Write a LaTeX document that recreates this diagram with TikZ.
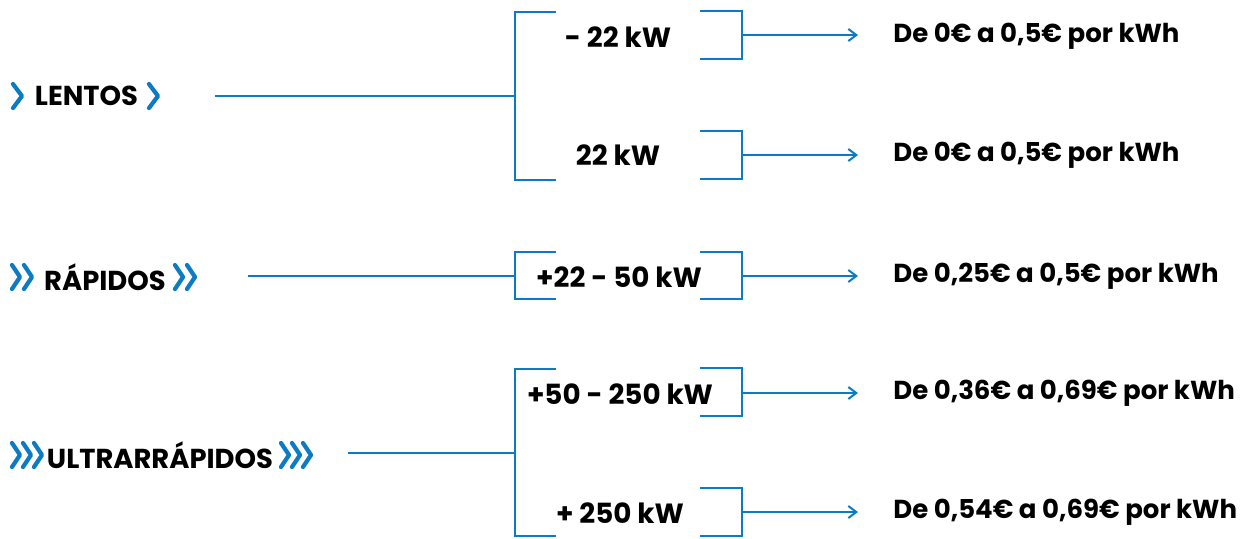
\documentclass[tikz,border=0pt]{standalone}
\usepackage{fontspec}
\setmainfont{Poppins}
\usetikzlibrary{arrows.meta}
\definecolor{plugblue}{HTML}{0C7BC4}
\tikzset{
  lbl/.style={font=\bfseries\fontsize{13.7}{15}\selectfont,inner sep=0pt},
  rng/.style={font=\bfseries\fontsize{13.9}{15}\selectfont,inner sep=0pt},
  price/.style={font=\bfseries\fontsize{13}{15}\selectfont,anchor=west,inner xsep=17.5pt,inner ysep=0pt},
  brk/.style={draw=plugblue,line width=1pt},
  arr/.style={-{Straight Barb[length=4pt,width=6pt]},draw=plugblue,line width=1pt},
  chev/.style={draw=plugblue,line width=2.1pt,line cap=round,line join=round},
}

\begin{document}
\begin{tikzpicture}[x=0.5pt,y=-0.5pt]
\useasboundingbox (0,0) rectangle (1251,538);

% charger classes
\node[lbl] (lentos) at (86.5,96) {LENTOS};
\node[lbl] (rapidos) at (105,277) {RÁPIDOS};
\node[lbl] (ultra) at (160,455) {ULTRARRÁPIDOS};

% chevrons
\foreach \b in {13,149}
  \draw[chev] (\b,84) -- (\b+9,96) -- (\b,108);
\foreach \b in {12,24,175,187}
  \draw[chev] (\b,265) -- (\b+8,277) -- (\b,289);
\foreach \b in {12,23,34,281,292,303}
  \draw[chev] (\b,443) -- (\b+8,455) -- (\b,467);

% power ranges
\node[rng] (r1) at (618,37) {- 22 kW};
\node[rng] (r2) at (618,155) {22 kW};
\node[rng] (r3) at (619,277) {+22 - 50 kW};
\node[rng] (r4) at (620,394) {+50 - 250 kW};
\node[rng] (r5) at (620,513) {+ 250 kW};

% prices
\node[price] (p1) at (858,36) {De 0€ a 0,5€ por kWh};
\node[price] (p2) at (858,155) {De 0€ a 0,5€ por kWh};
\node[price] (p3) at (858,276) {De 0,25€ a 0,5€ por kWh};
\node[price] (p4) at (858,393) {De 0,36€ a 0,69€ por kWh};
\node[price] (p5) at (858,512) {De 0,54€ a 0,69€ por kWh};

% joints
\coordinate (l1) at (215,96);   \coordinate (j1) at (515,96);
\coordinate (l2) at (248,276);  \coordinate (j2) at (515,276);
\coordinate (l3) at (348,453);  \coordinate (j3) at (515,453);
\coordinate (b1) at (742,35);
\coordinate (b2) at (742,155);
\coordinate (b3) at (742,276);
\coordinate (b4) at (742,393);
\coordinate (b5) at (742,512);

% left brackets
\draw[brk] (l1) -- (j1);
\draw[brk] (556,12) -- (515,12) -- (515,180) -- (556,180);
\draw[brk] (l2) -- (j2);
\draw[brk] (556,252) -- (515,252) -- (515,299) -- (556,299);
\draw[brk] (l3) -- (j3);
\draw[brk] (556,369) -- (515,369) -- (515,536) -- (556,536);

% right brackets
\draw[brk] (700,11) -- (742,11) -- (742,59) -- (700,59);
\draw[brk] (700,131) -- (742,131) -- (742,179) -- (700,179);
\draw[brk] (700,252) -- (742,252) -- (742,299) -- (700,299);
\draw[brk] (700,368) -- (742,368) -- (742,416) -- (700,416);
\draw[brk] (700,488) -- (742,488) -- (742,536) -- (700,536);

% arrows
\foreach \i in {1,...,5}
  \draw[arr] (b\i) -- (p\i.west |- b\i);

\end{tikzpicture}
\end{document}
